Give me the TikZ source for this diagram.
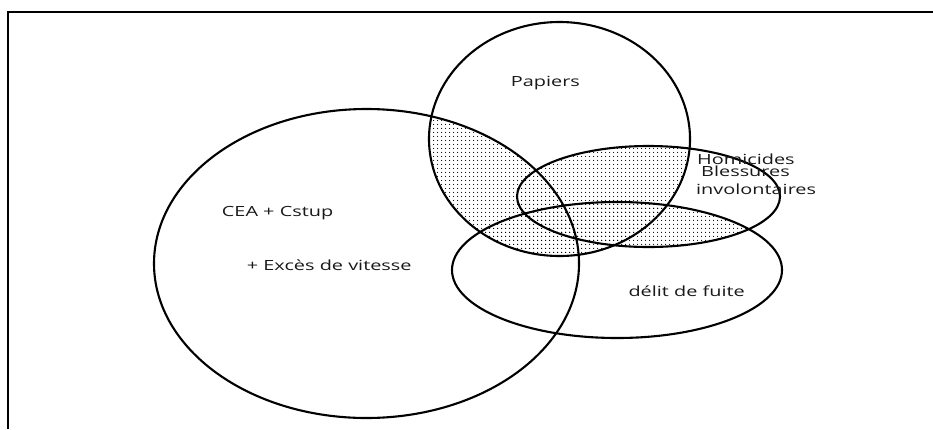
\documentclass[tikz,border=0pt]{standalone}
\usepackage{fontspec}
\setmainfont{Open Sans}
\usetikzlibrary{patterns}
\pgfdeclarepatternformonly{finedots}{\pgfpointorigin}{\pgfqpoint{4pt}{4pt}}{\pgfqpoint{4pt}{4pt}}{%
  \pgfpathcircle{\pgfqpoint{2pt}{2pt}}{0.65pt}\pgfusepath{fill}}
\newcommand{\widetxt}[1]{\scalebox{1.42}[1]{#1}}
\begin{document}
\begin{tikzpicture}[x=1pt,y=-1pt,
  setline/.style={line width=2.1pt},
  lbl/.style={anchor=base west,inner sep=0pt,text=black!90,font=\fontsize{14pt}{16pt}\selectfont},
  dotfill/.style={pattern=finedots,pattern color=black}]
\useasboundingbox (0,0) rectangle (933,429);
% shaded regions
\begin{scope}
  \clip (559.5,139) ellipse [x radius=130.5pt, y radius=117pt];
  \fill[dotfill] (366.5,263.5) ellipse [x radius=212.5pt, y radius=154.5pt];
  \fill[dotfill] (648.5,196.5) ellipse [x radius=131.5pt, y radius=50.5pt];
  \fill[dotfill] (617,270) ellipse [x radius=165pt, y radius=68pt];
\end{scope}
\begin{scope}
  \clip (648.5,196.5) ellipse [x radius=131.5pt, y radius=50.5pt];
  \fill[dotfill] (617,270) ellipse [x radius=165pt, y radius=68pt];
\end{scope}
% outlines
\draw[setline] (366.5,263.5) ellipse [x radius=212.5pt, y radius=154.5pt];
\draw[setline] (559.5,139) ellipse [x radius=130.5pt, y radius=117pt];
\draw[setline] (648.5,196.5) ellipse [x radius=131.5pt, y radius=50.5pt];
\draw[setline] (617,270) ellipse [x radius=165pt, y radius=68pt];
% frame
\draw[line width=2.4pt] (8,429) -- (8,12) -- (933,12);
% labels
\node[lbl] (pap) at (510.7,86) {\widetxt{Papiers}};
\node[lbl] (hom) at (697,164) {\widetxt{Homicides}};
\node[lbl] (ble) at (701,176.7) {\widetxt{Blessures}};
\node[lbl] (inv) at (696,194) {\widetxt{involontaires}};
\node[lbl] (cea) at (221.7,216.7) {\widetxt{CEA + Cstup}};
\node[lbl] (exc) at (246.7,270.7) {\widetxt{+ Excès de vitesse}};
\node[lbl] (del) at (628.3,296.7) {\widetxt{délit de fuite}};
\end{tikzpicture}
\end{document}
